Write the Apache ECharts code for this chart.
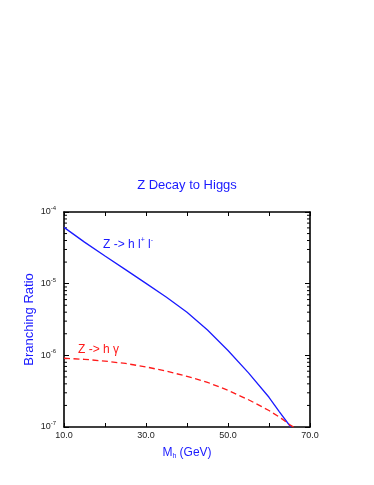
<!DOCTYPE html>
<html>
<head>
<meta charset="utf-8">
<style>html,body{margin:0;padding:0;background:#fff;}#c{width:374px;height:485px;}</style>
<script src="https://cdn.jsdelivr.net/npm/echarts@6/dist/echarts.min.js"></script>
</head>
<body>
<div id="c"></div>
<script>
// Higgs mass (GeV) and branching ratios
const llMass   = [10, 15, 20, 25, 30, 35, 40, 45, 50, 55, 60, 62.5, 65.3];
const llValues = [6.1e-5, 3.8e-5, 2.43e-5, 1.57e-5, 1.01e-5, 6.46e-6, 3.98e-6, 2.26e-6, 1.17e-6, 5.7e-7, 2.6e-7, 1.64e-7, 1.0e-7];
const gamMass   = [10, 15, 20, 25, 30, 35, 40, 45, 50, 55, 60, 63, 65, 66];
const gamValues = [9.1e-7, 8.8e-7, 8.3e-7, 7.7e-7, 6.9e-7, 6.0e-7, 5.1e-7, 4.2e-7, 3.25e-7, 2.4e-7, 1.7e-7, 1.32e-7, 1.08e-7, 1.0e-7];
const xTickLabels = [10, 30, 50, 70];
const minorTickValues = [];
[1e-7, 1e-6, 1e-5].forEach(function (d) { for (let k = 2; k <= 9; k++) minorTickValues.push(k * d); });

const chart = echarts.init(document.getElementById('c'));
const font = 'Liberation Sans, Arial, sans-serif';
const blue = '#1a1aff';
const red = '#ff1a1a';

function yFmt(v) {
  const e = Math.round(Math.log10(v));
  return '{b|10}{s|' + e + '}';
}

chart.setOption({
  animation: false,
  title: {
    text: 'Z Decay to Higgs', left: 'center', top: 174,
    textStyle: { color: blue, fontSize: 13, fontWeight: 'normal', fontFamily: font }
  },
  grid: { left: 64, right: 64, top: 212, bottom: 58 },
  xAxis: [{
    type: 'value', min: 10, max: 70, interval: 10,
    axisLine: { lineStyle: { color: '#000', width: 1.6 } },
    axisTick: { inside: true, length: 4, lineStyle: { color: '#000' } },
    axisLabel: {
      margin: 4, fontSize: 9, color: '#222', fontFamily: font,
      formatter: function (v) { return xTickLabels.indexOf(v) >= 0 ? v.toFixed(1) : ''; }
    },
    splitLine: { show: false },
    name: '{a|M}{sub|h}{a| (GeV)}', nameLocation: 'middle', nameGap: 18,
    nameTextStyle: {
      rich: {
        a: { color: blue, fontSize: 12, fontFamily: font },
        sub: { color: blue, fontSize: 7, fontFamily: font, verticalAlign: 'top', padding: [8, 0, 0, 0] }
      }
    }
  }, {
    type: 'value', position: 'top', min: 10, max: 70, interval: 10,
    axisLine: { show: true, lineStyle: { color: '#000', width: 1.6 } },
    axisTick: { inside: true, length: 4, lineStyle: { color: '#000' } },
    axisLabel: { show: false }, splitLine: { show: false }
  }],
  yAxis: [{
    type: 'log', logBase: 10, min: 1e-7, max: 1e-4,
    axisLine: { show: true, lineStyle: { color: '#000', width: 1.6 } },
    axisTick: { inside: true, length: 5, lineStyle: { color: '#000' } },
    axisLabel: {
      margin: 8, formatter: yFmt,
      rich: {
        b: { fontSize: 9, color: '#222', fontFamily: font },
        s: { fontSize: 6, color: '#222', fontFamily: font, verticalAlign: 'bottom', padding: [0, 0, 7, 0] }
      }
    },
    splitLine: { show: false },
    name: 'Branching Ratio', nameLocation: 'middle', nameGap: 28, nameMoveOverlap: false,
    nameTextStyle: { color: blue, fontSize: 13, fontFamily: font }
  }, {
    type: 'log', logBase: 10, min: 1e-7, max: 1e-4, position: 'right',
    axisLine: { show: true, lineStyle: { color: '#000', width: 1.6 } },
    axisTick: { inside: true, length: 5, lineStyle: { color: '#000' } },
    axisLabel: { show: false }, splitLine: { show: false }
  }],
  series: [{
    type: 'line', name: 'll', data: llMass.map(function (m, i) { return [m, llValues[i]]; }),
    smooth: false, showSymbol: false,
    lineStyle: { color: blue, width: 1.3 }
  }, {
    type: 'line', name: 'gamma', data: gamMass.map(function (m, i) { return [m, gamValues[i]]; }),
    smooth: false, showSymbol: false,
    lineStyle: { color: red, width: 1.3, type: [6, 3.5] }
  }, {
    type: 'custom', name: 'minorTicks', silent: true,
    data: minorTickValues.map(function (v) { return [v]; }),
    renderItem: function (params, api) {
      const v = api.value(0);
      const l = api.coord([10, v]);
      const r = api.coord([70, v]);
      return {
        type: 'group', children: [
          { type: 'line', shape: { x1: l[0], y1: l[1], x2: l[0] + 3, y2: l[1] }, style: { stroke: '#000', lineWidth: 1 } },
          { type: 'line', shape: { x1: r[0], y1: r[1], x2: r[0] - 3, y2: r[1] }, style: { stroke: '#000', lineWidth: 1 } }
        ]
      };
    }
  }],
  graphic: [{
    type: 'text', left: 103, top: 237,
    style: {
      text: '{a|Z -> h l}{s|+}{a| l}{s|-}',
      rich: {
        a: { fill: blue, fontSize: 12, fontFamily: font },
        s: { fill: blue, fontSize: 7, fontFamily: font, verticalAlign: 'bottom', padding: [0, 0, 8, 0] }
      }
    }
  }, {
    type: 'text', left: 78, top: 344,
    style: { text: 'Z -> h γ', fill: red, fontSize: 12, fontFamily: font }
  }]
});
</script>
</body>
</html>
